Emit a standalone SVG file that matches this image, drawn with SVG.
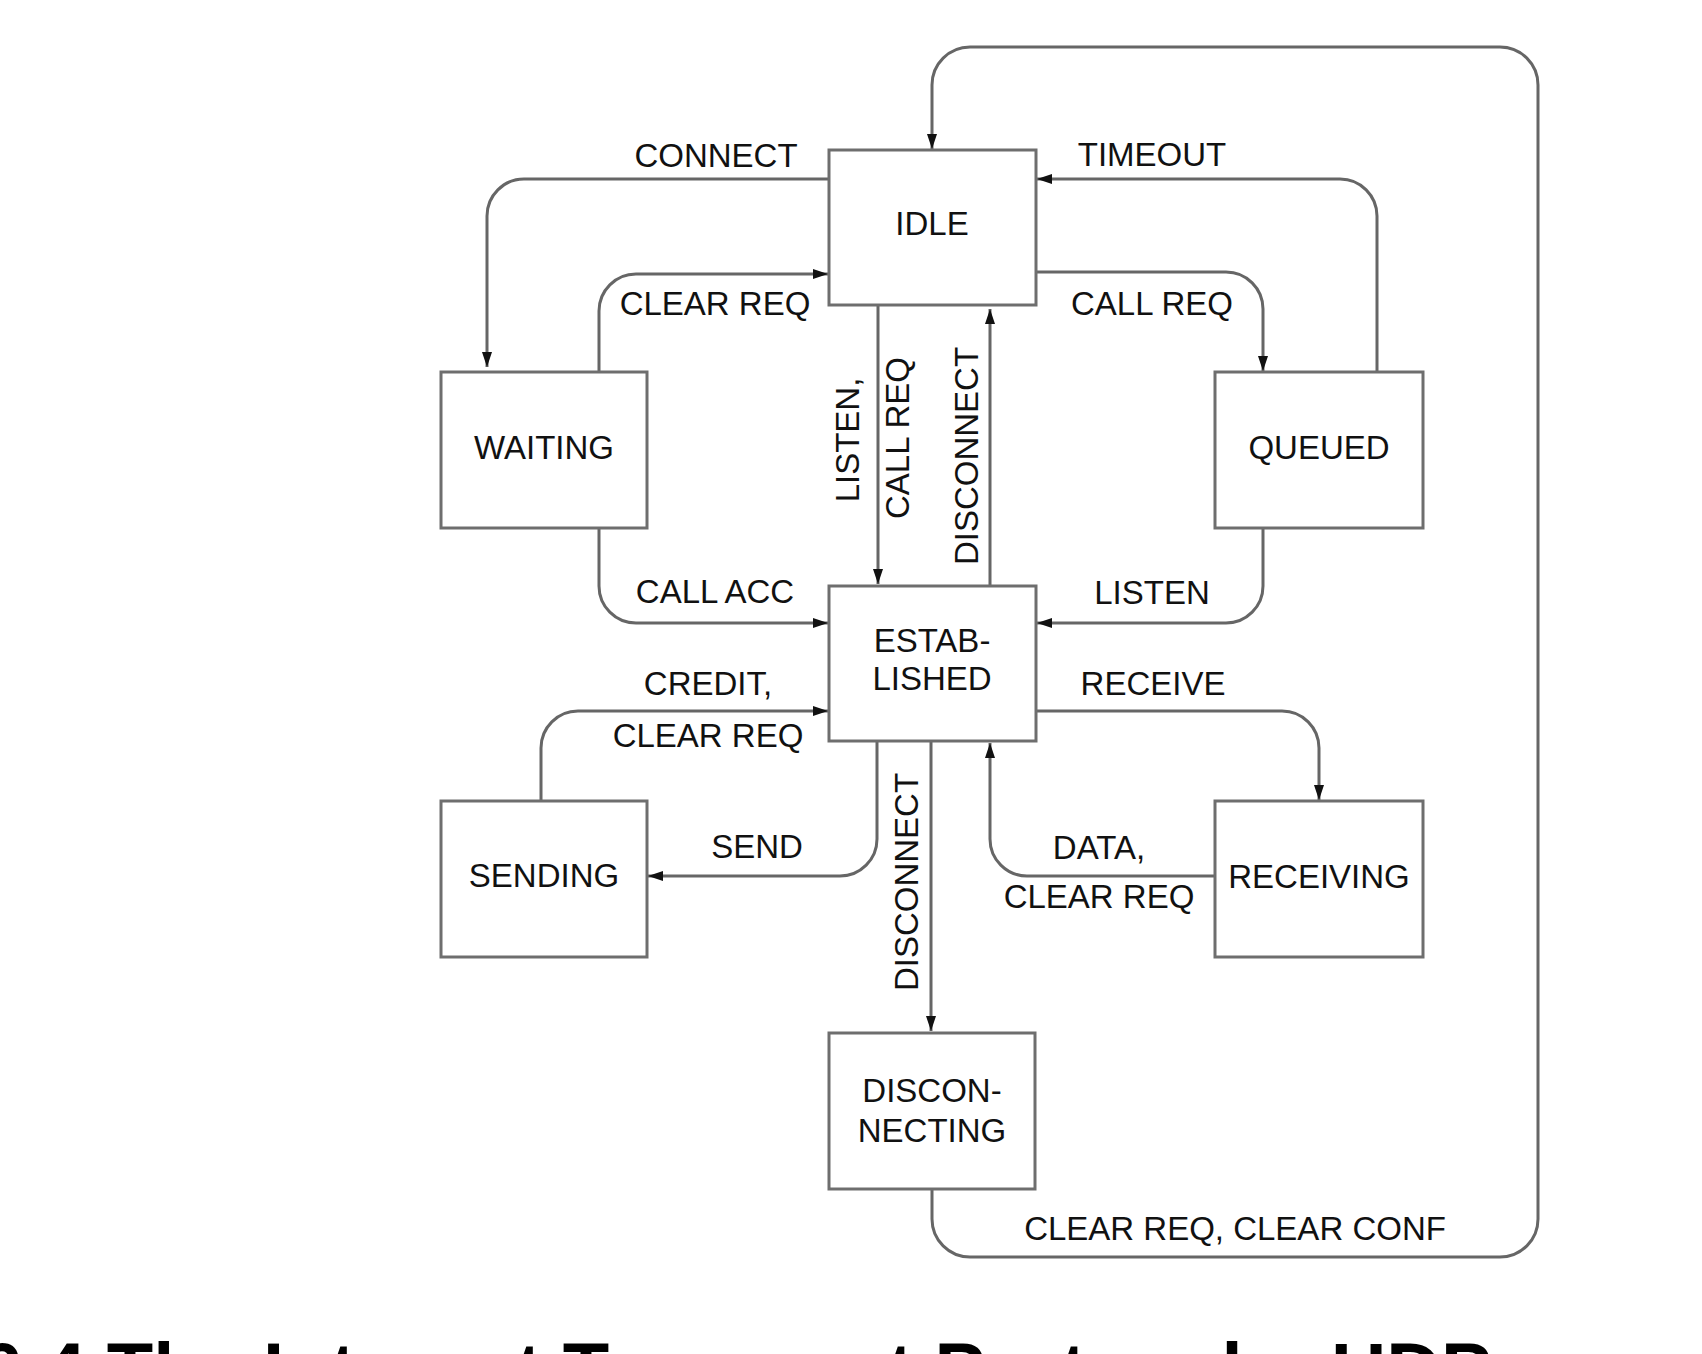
<svg xmlns="http://www.w3.org/2000/svg" width="1702" height="1354" viewBox="0 0 1702 1354">
<style>
.box{fill:#fff;stroke:#6e6e6e;stroke-width:3}
.nt{font-family:"Liberation Sans",Arial,sans-serif;font-size:33px;fill:#111;text-anchor:middle}
.lb{font-family:"Liberation Sans",Arial,sans-serif;font-size:33px;fill:#111;text-anchor:middle}
.cn{fill:none;stroke:#666;stroke-width:3}
.title{font-family:"Liberation Sans",Arial,sans-serif;font-size:76px;font-weight:bold;fill:#000}
</style>
<defs>
<marker id="ah" markerUnits="userSpaceOnUse" markerWidth="16" markerHeight="12" refX="15" refY="6" orient="auto">
<path d="M0,1 L15,6 L0,11 z" fill="#111"/>
</marker>
</defs>
<rect width="1702" height="1354" fill="#fff"/>
<g id="connectors">
<path class="cn" marker-end="url(#ah)" d="M829,179 H524 A37,37 0 0 0 487,216 V367"/>
<path class="cn" marker-end="url(#ah)" d="M599,372 V311 A37,37 0 0 1 636,274 H828"/>
<path class="cn" marker-end="url(#ah)" d="M878,305 V584"/>
<path class="cn" marker-end="url(#ah)" d="M990,586 V309"/>
<path class="cn" marker-end="url(#ah)" d="M1036,272 H1226 A37,37 0 0 1 1263,309 V371"/>
<path class="cn" marker-end="url(#ah)" d="M1377,372 V216 A37,37 0 0 0 1340,179 H1037"/>
<path class="cn" marker-end="url(#ah)" d="M599,528 V586 A37,37 0 0 0 636,623 H828"/>
<path class="cn" marker-end="url(#ah)" d="M1263,528 V586 A37,37 0 0 1 1226,623 H1037"/>
<path class="cn" marker-end="url(#ah)" d="M541,801 V748 A37,37 0 0 1 578,711 H828"/>
<path class="cn" marker-end="url(#ah)" d="M877,741 V839 A37,37 0 0 1 840,876 H648"/>
<path class="cn" marker-end="url(#ah)" d="M931,741 V1031"/>
<path class="cn" marker-end="url(#ah)" d="M1036,711 H1282 A37,37 0 0 1 1319,748 V800"/>
<path class="cn" marker-end="url(#ah)" d="M1215,876 H1027 A37,37 0 0 1 990,839 V743"/>
<path class="cn" marker-end="url(#ah)" d="M932,1189 V1219 A38,38 0 0 0 970,1257 H1500 A38,38 0 0 0 1538,1219 V85 A38,38 0 0 0 1500,47 H970 A38,38 0 0 0 932,85 V149"/>
<text class="lb" x="716" y="167">CONNECT</text>
<text class="lb" x="715" y="315">CLEAR REQ</text>
<text class="lb" x="1152" y="166">TIMEOUT</text>
<text class="lb" x="1152" y="315">CALL REQ</text>
<text class="lb" x="715" y="603">CALL ACC</text>
<text class="lb" x="1152" y="604">LISTEN</text>
<text class="lb" x="708" y="695">CREDIT,</text>
<text class="lb" x="708" y="747">CLEAR REQ</text>
<text class="lb" x="1153" y="695">RECEIVE</text>
<text class="lb" x="757" y="858">SEND</text>
<text class="lb" x="1099" y="859">DATA,</text>
<text class="lb" x="1099" y="908">CLEAR REQ</text>
<text class="lb" x="1235" y="1240">CLEAR REQ, CLEAR CONF</text>
<text class="lb" transform="translate(859,440) rotate(-90)">LISTEN,</text>
<text class="lb" transform="translate(909,438) rotate(-90)">CALL REQ</text>
<text class="lb" transform="translate(978,456) rotate(-90)">DISCONNECT</text>
<text class="lb" transform="translate(918,882) rotate(-90)">DISCONNECT</text>
</g>
<g id="idle"><rect class="box" x="829" y="150" width="207" height="155"/><text class="nt" x="932" y="235">IDLE</text></g>
<g id="waiting"><rect class="box" x="441" y="372" width="206" height="156"/><text class="nt" x="544" y="459">WAITING</text></g>
<g id="queued"><rect class="box" x="1215" y="372" width="208" height="156"/><text class="nt" x="1319" y="459">QUEUED</text></g>
<g id="established"><rect class="box" x="829" y="586" width="207" height="155"/><text class="nt" x="932" y="652">ESTAB-</text><text class="nt" x="932" y="690">LISHED</text></g>
<g id="sending"><rect class="box" x="441" y="801" width="206" height="156"/><text class="nt" x="544" y="887">SENDING</text></g>
<g id="receiving"><rect class="box" x="1215" y="801" width="208" height="156"/><text class="nt" x="1319" y="888">RECEIVING</text></g>
<g id="disconnecting"><rect class="box" x="829" y="1033" width="206" height="156"/><text class="nt" x="932" y="1102">DISCON-</text><text class="nt" x="932" y="1142">NECTING</text></g>
<text class="title" x="-20" y="1396">6.4 The Internet Transport Protocols: UDP</text>
</svg>
